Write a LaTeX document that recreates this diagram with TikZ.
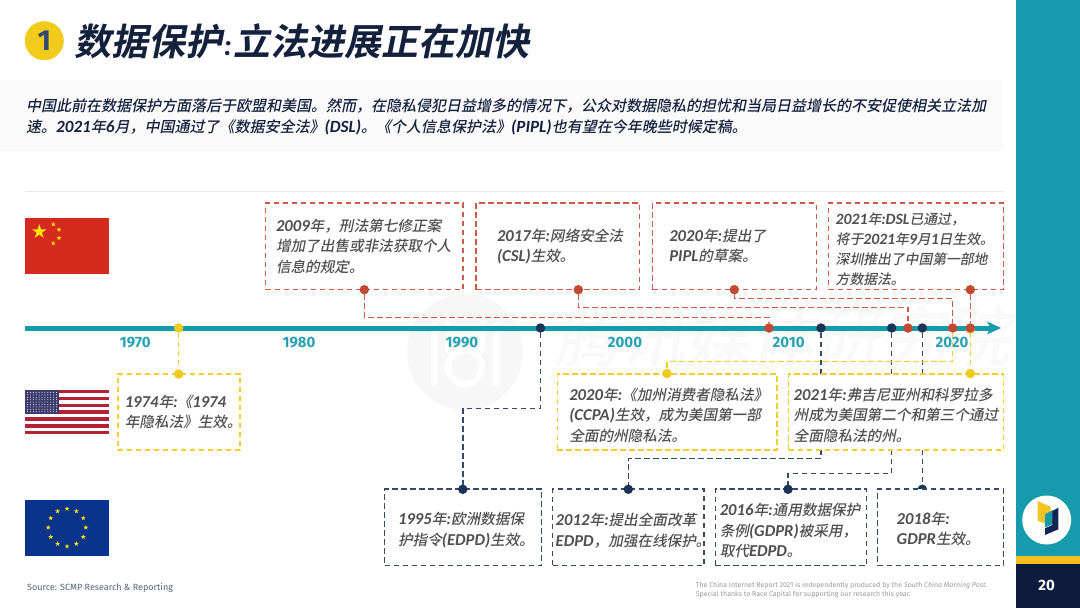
\documentclass[tikz,border=0pt]{standalone}
\usepackage{fontspec}
\setmainfont{Carlito}
\newfontfamily\cn[FakeSlant=0.2]{Noto Sans CJK SC Medium}
\newfontfamily\cnt[FakeSlant=0.2]{Noto Sans CJK SC Bold}
\newfontfamily\latf[Scale=1.14]{Carlito}
\newfontfamily\fira{Fira Sans}
\newcommand\la[1]{{\latf\bfseries\itshape #1}}
\newcommand\up[1]{\rule{0pt}{#1pt}}
\newcommand\fc{\char"FF0C\relax}
\definecolor{teal1}{HTML}{159BAB}
\definecolor{yeartxt}{HTML}{27A2B4}
\definecolor{redl}{HTML}{CF5A4A}
\definecolor{redd}{HTML}{C24A33}
\definecolor{yell}{HTML}{F5CE2E}
\definecolor{yeld}{HTML}{F1CB1B}
\definecolor{navl}{HTML}{34496B}
\definecolor{navd}{HTML}{1C3358}
\definecolor{ink}{HTML}{14213D}
\definecolor{body}{HTML}{505050}
\definecolor{wm}{HTML}{F9F9F9}
\tikzset{
  bx/.style={rectangle,draw,fill=white,line width=1.5pt,dash pattern=on 5.5pt off 3.5pt,align=left,inner ysep=0pt,outer sep=0pt,text=body,font=\cn\fontsize{14.6}{20.3}\selectfont},
  rbox/.style={bx,draw=redl},
  ybox/.style={bx,draw=yell},
  nbox/.style={bx,draw=navl},
  dot/.style={circle,inner sep=0pt,minimum size=9.5pt,outer sep=0pt},
  rdot/.style={dot,fill=redd},
  ydot/.style={dot,fill=yeld},
  ndot/.style={dot,fill=navd},
  conn/.style={line width=1.5pt,dash pattern=on 5.5pt off 3.5pt},
  rconn/.style={conn,draw=redl},
  yconn/.style={conn,draw=yell},
  nconn/.style={conn,draw=navl},
  yr/.style={text=yeartxt,font=\fira\bfseries\fontsize{15}{16}\selectfont,inner sep=0pt},
}
\newcommand\tbox[8]{\pgfmathsetmacro\tw{#5-#3-2*#7}\pgfmathsetmacro\bh{#6-#4}\pgfmathsetmacro\cx{(#3+#5)/2}\pgfmathsetmacro\cy{(#4+#6)/2}%
 \node[#2,text width=\tw pt,inner xsep=#7 pt,minimum height=\bh pt] (#1) at (\cx,\cy) {#8};}
\newcommand\fstar[4]{\fill[shift={(#1,#2)},#4] (-90:#3) -- (-54:{.382*#3}) -- (-18:#3) -- (18:{.382*#3}) -- (54:#3) -- (90:{.382*#3}) -- (126:#3) -- (162:{.382*#3}) -- (198:#3) -- (234:{.382*#3}) -- cycle;}
\begin{document}
\begin{tikzpicture}[x=1pt,y=-1pt]
\useasboundingbox (0,0) rectangle (1080,608);
\fill[white] (0,0) rectangle (1080,608);
% grey band and rule
\fill[black!2] (0,80) rectangle (1003,151);
\draw[black!9,line width=1pt] (25,191) -- (1003,191);
% watermark
\fill[black!3] (465,352) circle (58);
\draw[white,line width=7pt,line cap=round] (434,326) -- (434,383);
\draw[white,line width=7pt,line cap=round] (496,326) -- (496,383);
\draw[white,line width=6pt] (465,367) circle (17);
\draw[white,line width=6pt,line cap=round] (448,350) -- (448,326) arc (180:360:17 and -8) -- (482,350);
\node[inner sep=0pt,anchor=west,text=wm,font=\cn\fontsize{65}{65}\selectfont] (wmcn) at (555,337) {腾讯媒体研究院};
\node[inner sep=0pt,anchor=west,text=wm,font=\fira\itshape\fontsize{28}{28}\selectfont] (wmen) at (546,385) {Tencent Media Research Institute};
% title
\node[circle,fill=yeld,minimum size=39pt,inner sep=0pt,text=navl,font=\fira\bfseries\fontsize{29}{29}\selectfont] (num) at (44.3,40.7) {1};
\node[anchor=west,inner sep=0pt,text=ink,font=\cnt\fontsize{37}{40}\selectfont] (title) at (74,41) {数据保护{\latf\bfseries\itshape\fontsize{26}{26}\selectfont \hspace{1.5pt}:\hspace{1.5pt}}立法进展正在加快};
\node[anchor=north west,inner sep=0pt,text=ink,align=left,font=\cn\fontsize{15}{21}\selectfont] (intro) at (26,98) {中国此前在数据保护方面落后于欧盟和美国。然而\fc 在隐私侵犯日益增多的情况下\fc 公众对数据隐私的担忧和当局日益增长的不安促使相关立法加\\速。\la{2021}年\la{6}月\fc 中国通过了《数据安全法》\la{(DSL)}。《个人信息保护法》\la{(PIPL)}也有望在今年晚些时候定稿。};
% flags
\fill[fill={rgb,255:red,213;green,43;blue,30}] (25,218) rectangle (109,274);
\fstar{39.3}{231.7}{7.5}{yellow!90!orange}
\fstar{53.3}{224.3}{2.5}{yellow!90!orange}
\fstar{59}{229.7}{2.5}{yellow!90!orange}
\fstar{59}{238}{2.5}{yellow!90!orange}
\fstar{53.3}{243.3}{2.5}{yellow!90!orange}
\foreach \k in {0,2,...,12} \fill[fill={rgb,255:red,178;green,34;blue,52}] (25,{390+3.41*\k}) rectangle (109,{390+3.41*(\k+1)});
\fill[fill={rgb,255:red,60;green,59;blue,110}] (25,390) rectangle (59,414);
\foreach \i in {0,...,10} \foreach \j in {0,...,8} \fill[white] ({27.5+2.9*\i},{392.5+2.4*\j}) circle (.5);
\fill[fill={rgb,255:red,10;green,51;blue,138}] (25,499.5) rectangle (109,555.5);
\foreach \a in {0,30,...,330} \fstar{{67+18.8*cos(\a)}}{{527.5+18.8*sin(\a)}}{2.6}{yellow!90!orange}
% timeline
\coordinate (tl0) at (25,328);
\coordinate (tl1) at (1001,328);
\draw[teal1,line width=5pt] (tl0) -- (990,328);
\fill[teal1] (tl1) -- (987,321.5) -- (990.5,328) -- (987,334.5) -- cycle;
% year labels
\node[yr] (y70) at (135.3,342.7) {1970};
\node[yr] (y80) at (299,342.7) {1980};
\node[yr] (y90) at (462,342.7) {1990};
\node[yr] (y00) at (625,342.7) {2000};
\node[yr] (y10) at (788.7,342.7) {2010};
\node[yr] (y20) at (952,342.7) {2020};
% EU boxes
\node[ndot] (n18b) at (922.3,489.3) {};
\tbox{b95}{nbox}{384.6}{489}{541.7}{565.7}{13.5}{\up{18}\la{1995}年{\la{:}}欧洲数据保\\护指令\la{(EDPD)}生效。}
\tbox{b12}{nbox}{552.7}{489}{704}{565.7}{3}{\up{19}\la{2012}年{\la{:}}提出全面改革\\\la{EDPD}\fc 加强在线保护。}
\tbox{b16}{nbox}{715.3}{489}{866.7}{565.7}{4.5}{\up{19}\la{2016}年{\la{:}}通用数据保护\\条例\la{(GDPR)}被采用\fc\\取代\la{EDPD}。}
\tbox{b18}{nbox}{877.7}{489}{1003.7}{565.7}{19}{\up{15}\la{2018}年{\la{:}}\\\la{GDPR}生效。}
\node[ndot] (n95b) at (462.8,489.3) {};
\node[ndot] (n12b) at (628.3,489.3) {};
\node[ndot] (n16b) at (788,489.3) {};
% timeline dots, navy
\node[ndot] (n95t) at (540.5,328) {};
\node[ndot] (n12t) at (821,328) {};
\node[ndot] (n16t) at (891.7,328) {};
\node[ndot] (n18t) at (922.3,328) {};
% navy connectors
\draw[nconn] (n95t) -- (540.5,408.3) -| (n95b);
\draw[nconn] (n12t) -- (821,458.7) -| (n12b);
\draw[nconn] (n16t) -- (891.7,473.3) -| (n16b);
\draw[nconn] (n18t) -- (n18b);
% US boxes
\tbox{b74}{ybox}{117.8}{374}{240}{450}{7}{\la{1974}年{\la{:}}《\la{1974}\\年隐私法》生效。}
\tbox{b20u}{ybox}{557.3}{374}{777}{450}{12}{\up{19}\la{2020}年{\la{:}}《加州消费者隐私法》\\\la{(CCPA)}生效\fc 成为美国第一部\\全面的州隐私法。}
\tbox{b21u}{ybox}{788.7}{374}{1003.7}{450}{5}{\up{19}\la{2021}年{\la{:}}弗吉尼亚州和科罗拉多\\州成为美国第二个和第三个通过\\全面隐私法的州。}
\node[ydot] (y74t) at (178.7,328) {};
\node[ydot] (y74b) at (178.7,374) {};
\node[ydot] (y20b) at (667,373.5) {};
\node[ydot] (y21b) at (970.3,373.5) {};
% CN boxes
\tbox{b09}{rbox}{265.5}{203}{463}{289.5}{10.5}{\la{2009}年\fc 刑法第七修正案\\增加了出售或非法获取个人\\信息的规定。}
\tbox{b17}{rbox}{476}{203}{639.7}{289.5}{21}{\la{2017}年{\la{:}}网络安全法\\\la{(CSL)}生效。}
\tbox{b20c}{rbox}{652.7}{203}{816.3}{289.5}{16.6}{\la{2020}年{\la{:}}提出了\\\la{PIPL}的草案。}
\tbox{b21c}{rbox,font=\cn\fontsize{13.8}{19.8}\selectfont}{828.7}{203}{1003.7}{289.5}{7}{\up{18}\la{2021}年{\la{:}}\la{DSL}已通过\fc\\将于\la{2021}年\la{9}月\la{1}日生效。\\深圳推出了中国第一部地\\方数据法。}
\node[rdot] (r09b) at (364.3,289.7) {};
\node[rdot] (r17b) at (578.3,289.7) {};
\node[rdot] (r20b) at (734.3,289.7) {};
\node[rdot] (r21b) at (970.3,289.7) {};
\node[rdot] (r09t) at (769,328) {};
\node[rdot] (r17t) at (908,328) {};
\node[rdot] (r20t) at (952.7,328) {};
\node[ydot] (y21t) at (970.3,329) {};
\node[rdot] (r21t) at (970.3,328) {};
% yellow connectors
\draw[yconn] (y74t) -- (y74b);
\draw[yconn] (r20t) -- (952.7,361.7) -| (y20b);
\draw[yconn] (r21t) -- (y21b);
% red connectors
\draw[rconn] (r09b) -- (364.3,317.3) -| (r09t);
\draw[rconn] (r17b) -- (578.3,307.3) -| (r17t);
\draw[rconn] (r20b) -- (734.3,298.3) -| (r20t);
\draw[rconn] (r21b) -- (r21t);
% side panel
\fill[teal1] (1016,0) rectangle (1080,556);
\fill[fill={rgb,255:red,244;green,192;blue,31}] (1016,556) rectangle (1080,564);
\fill[fill={rgb,255:red,15;green,27;blue,61}] (1016,564) rectangle (1080,608);
\node[circle,fill=white,minimum size=49pt,inner sep=0pt] (logo) at (1046.7,520) {};
\fill[fill={rgb,255:red,244;green,197;blue,32}] (1037.7,501) -- (1050.7,506.7) -- (1050.7,525) -- (1037.7,521) -- cycle;
\fill[fill={rgb,255:red,21;green,155;blue,171}] (1045,514.3) -- (1053,510) -- (1053,524) -- (1045,527.5) -- cycle;
\fill[fill={rgb,255:red,22;green,36;blue,84}] (1052.3,511) -- (1058.3,507.7) -- (1058.3,529.3) -- (1045,535) -- (1045,528.3) -- (1052.3,525) -- cycle;
\node[text=white,inner sep=0pt,font=\fira\bfseries\fontsize{15}{15}\selectfont] (page) at (1046.7,585.7) {20};
% footer
\node[anchor=west,inner sep=0pt,text=navl!85,font=\fira\fontsize{9}{11}\selectfont] (src) at (27,587.7) {Source: SCMP Research \& Reporting};
\node[anchor=north west,inner sep=0pt,align=left,text=black!40,font=\fira\fontsize{7}{9.3}\selectfont] (credit) at (695.7,582) {The China Internet Report 2021 is independently produced by the {\itshape South China Morning Post.}\\Special thanks to Race Capital for supporting our research this year.};
\end{tikzpicture}
\end{document}
